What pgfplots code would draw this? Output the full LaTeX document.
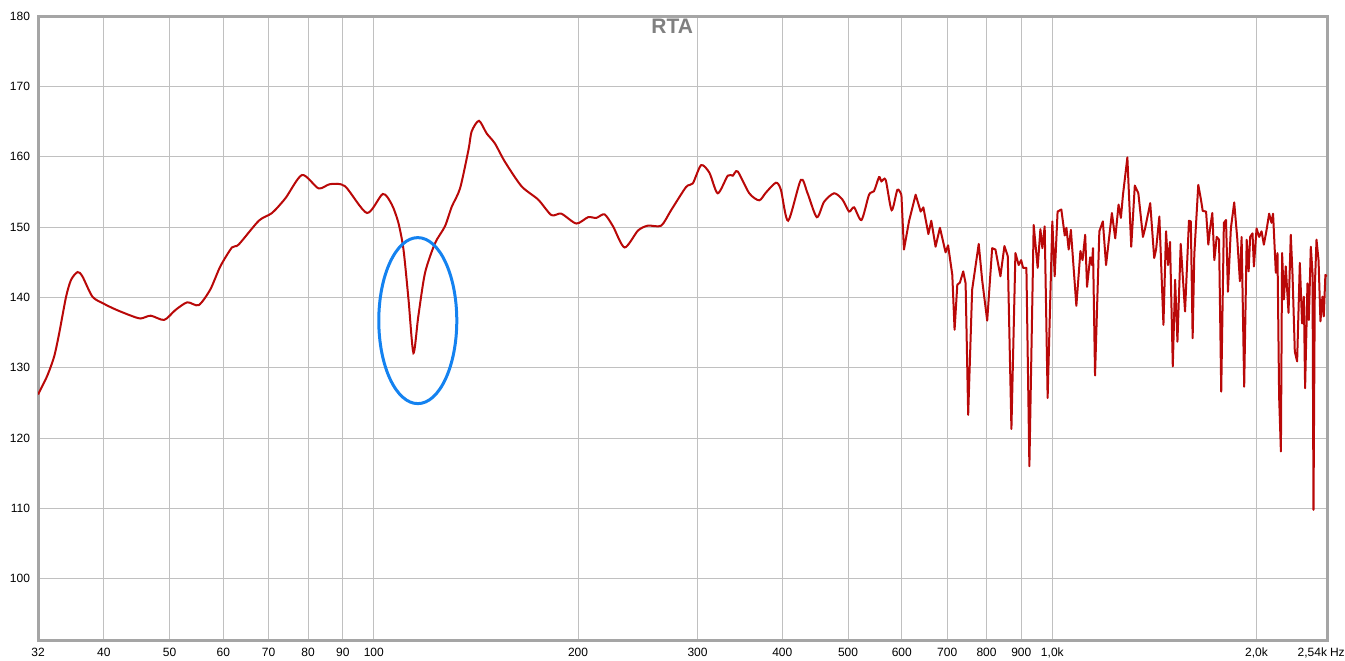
\documentclass[border=0pt]{standalone}
\usepackage{pgfplots}
\pgfplotsset{compat=1.18}
\usepackage{fontspec}
\setmainfont{Liberation Sans}
\definecolor{curvec}{RGB}{185,8,8}
\definecolor{gridc}{RGB}{192,192,192}
\definecolor{framec}{RGB}{165,165,165}
\definecolor{ellc}{RGB}{20,130,240}
\definecolor{titlec}{RGB}{128,128,128}
\begin{document}
\begin{tikzpicture}
\path[use as bounding box] (-19pt,-10pt) rectangle (653.5pt,320pt);
\begin{axis}[
  at={(0,0)}, anchor=south west,
  scale only axis, width=644.5pt, height=312pt,
  xmode=log, xmin=32, xmax=2540, ymin=91.3, ymax=180,
  xtick={32,40,50,60,70,80,90,100,200,300,400,500,600,700,800,900,1000,2000,2540},
  xticklabels={32,40,50,60,70,80,90,100,200,300,400,500,600,700,800,900,{1,0k},{2,0k},{\llap{2,54k}\rlap{\kern1.5pt Hz}}},
  ytick={100,110,120,130,140,150,160,170,180},
  yticklabels={100,110,120,130,140,150,160,170,180},
  major tick length=0pt,
  grid=major, major grid style={gridc, line width=0.5pt},
  axis line style={framec, line width=1.5pt},
  tick label style={font=\fontsize{6}{7}\selectfont, text=black},
  xticklabel style={yshift=-0.5pt},
  yticklabel style={xshift=-0.5pt},
  clip=true,
]
\addplot[curvec, line width=1pt, smooth, tension=0.45] coordinates {
(32,126.2) (33.0,128.8) (33.8,131.6) (34.4,135.0) (35.2,140.1) (35.8,142.5)
(36.6,143.6) (37.2,143.0) (38.5,140.1) (40.0,139.1) (41.6,138.3) (43.6,137.5)
(45.3,137.0) (46.9,137.4) (49.1,136.8) (51.0,138.2) (53.1,139.3) (55.2,138.9)
(57.4,141.1) (59.4,144.4) (61.8,147.1) (63.2,147.5) (67.7,150.9) (70.8,152.0)
(74.1,154.1) (78.4,157.4) (82.9,155.5) (86.2,156.1) (90.7,155.8) (97.7,152.0)
(103.1,154.7) (106.3,153.2) (108.7,150.6) (110.6,146.8) (112.5,139.7) (114.4,132.1)
(116.3,137.3) (119.0,143.5) (123.1,147.7) (127.3,150.1) (130.3,152.9) (134.0,155.5)
(137.9,161.0) (139.4,163.6) (142.9,165.1) (146.7,163.3) (150.8,161.9) (156.0,159.3)
(165.1,155.8) (174.7,153.9) (182.7,151.7) (189.0,151.9) (198.8,150.5) (206.9,151.4)
(212.8,151.3) (218.8,151.8) (225.2,150.1) (234.2,147.1) (245.1,149.5) (253.5,150.2)
(265.2,150.2) (274.3,152.4) (288.6,155.7) (295.2,156.2) (303.7,158.8) (312.4,157.7)
(321.3,154.8) (332.4,157.3) (338.1,157.3) (343.8,157.9) (357.6,154.8) (369.9,153.8)
(378.4,154.9) (391.4,156.3) (398.1,155.3) (408.0,150.9) (426.0,156.7) (435.8,154.8)
(449.7,151.4) (461.0,153.6) (476.9,154.8) (490.6,153.9) (501.7,152.2) (510.3,152.8)
(523.3,151.0) (536.9,154.6) (546.0,155.1) (555.4,157.1) (559.9,156.5) (568.1,156.7)
(579.7,152.4) (591.1,155.3) (599.2,154.6)
};
\addplot[curvec, line width=1pt, line join=round] coordinates {
(599.2,154.6) (604.4,146.8) (614.8,150.8) (628.9,154.6) (639.7,152.2) (645.6,152.8)
(656.7,149.0) (663.2,150.9) (672.9,147.2) (682.9,149.9) (696.1,146.4) (702.1,147.4)
(712.2,143.2) (717.8,135.4) (724.4,141.8) (730.8,142.1) (739.2,143.7) (745.1,142.0)
(751.6,123.3) (761.9,141.1) (779.1,147.6) (788.1,142.5) (801.7,136.7) (815.3,147.0)
(824.5,146.8) (838.5,143.0) (850.0,147.3) (859.6,145.9) (870.4,121.3) (882.3,146.3)
(892.1,144.6) (899.5,145.3) (905.5,144.2) (915.8,144.2) (925.1,116.0) (938.7,150.3)
(951.5,144.2) (960.3,149.7) (966.8,147.0) (974.4,150.1) (984.2,125.7) (1000,150.8)
(1008,143.0) (1018,152.2) (1031,152.5) (1043,148.8) (1049,149.9) (1057,146.8)
(1065,149.6) (1085,138.8) (1100,146.6) (1108,145.3) (1118,148.9) (1125,141.5)
(1137,145.7) (1144,144.6) (1148,147.0) (1156,128.9) (1173,149.4) (1187,150.8)
(1200,144.6) (1224,152.0) (1238,148.4) (1252,153.2) (1262,151.3) (1271,154.6)
(1290,159.9) (1307,147.2) (1323,155.9) (1339,154.8) (1360,148.6) (1370,149.8)
(1394,153.4) (1413,145.6) (1422,146.8) (1438,151.5) (1458,136.1) (1471,149.4)
(1481,144.6) (1491,147.9) (1505,130.2) (1517,142.5) (1529,133.7) (1546,147.6)
(1569,138.0) (1590,150.9) (1600,150.8) (1610,134.2) (1619,146.1) (1641,156.0)
(1656,153.9) (1666,152.3) (1685,152.2) (1698,147.5) (1708,149.8) (1721,152.0)
(1733,145.3) (1747,148.6) (1761,148.2) (1774,126.6) (1790,150.6) (1803,151.0)
(1815,140.8) (1833,149.8) (1854,153.5) (1873,148.4) (1890,142.3) (1901,148.6)
(1918,127.3) (1934,148.2) (1947,143.7) (1957,148.6) (1973,149.1) (1982,144.4)
(2000,149.8) (2018,148.6) (2034,149.4) (2050,147.5) (2069,149.6) (2087,151.9)
(2104,150.6) (2115,151.9) (2135,143.5) (2147,146.3) (2159,125.9) (2172,118.1)
(2181,146.3) (2194,139.7) (2208,144.4) (2229,137.8) (2246,148.9) (2259,143.5)
(2277,132.3) (2295,130.9) (2316,144.9) (2334,136.3) (2348,140.1) (2358,127.1)
(2377,142.0) (2388,136.8) (2404,147.2) (2418,143.5) (2426,109.8) (2437,141.5)
(2451,148.2) (2468,145.3) (2484,136.6) (2501,140.1) (2512,137.3) (2526,143.2)
(2540,143.0)
};
\draw[ellc, line width=1.5pt] (axis cs:116.1,136.7) ellipse [x radius=19.5pt, y radius=41.5pt];
\node[anchor=north, inner sep=0pt, text=titlec, font=\bfseries\fontsize{10.5}{12}\selectfont] at (rel axis cs:0.492,0.996) {RTA};
\node[anchor=base east, inner sep=0pt, font=\fontsize{6}{7}\selectfont] at (rel axis cs:0,1) [xshift=-1.5pt, yshift=3.2pt] {dB};
\end{axis}
\end{tikzpicture}
\end{document}
